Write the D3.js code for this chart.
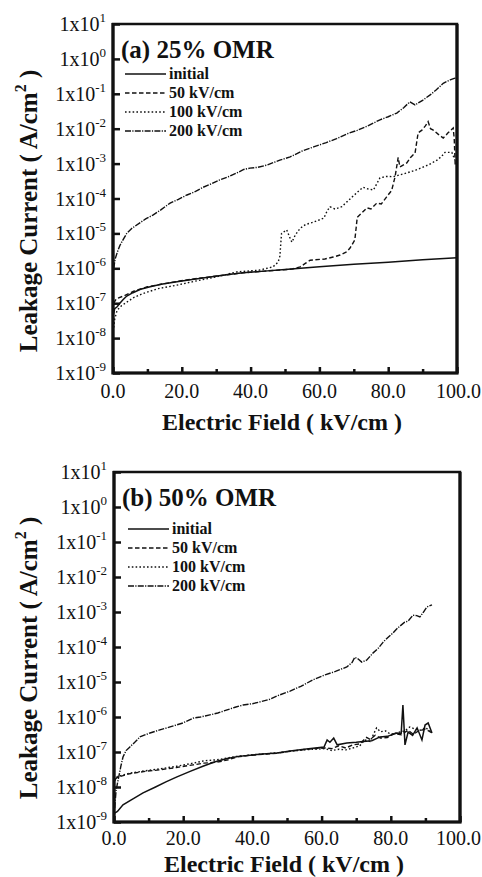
<!DOCTYPE html>
<html>
<head>
<meta charset="utf-8">
<script src="https://cdn.jsdelivr.net/npm/d3@7"></script>
<style>
  body { margin: 0; background: #fff; }
  text { font-family: "Liberation Serif", "Times New Roman", serif; fill: #111; }
</style>
</head>
<body>
<div id="chart"></div>
<script>
// values: [field kV/cm, current A/cm^2]
const a_initial = [[0.2,5e-8],[0.5,7e-8],[1.2,7.9e-8],[2,1.0e-7],[2.9,1.26e-7],[4,1.6e-7],[5.8,2.0e-7],[8,2.5e-7],[10.8,2.95e-7],[14,3.5e-7],[18.6,4.1e-7],[23,4.8e-7],[28.2,5.6e-7],[33,6.5e-7],[37.8,7.4e-7],[44,8.3e-7],[50,9.2e-7],[60,1.1e-6],[70,1.3e-6],[80,1.5e-6],[90,1.75e-6],[100,2.0e-6]];
const a_50 = [[0.2,1.0e-7],[1,1.35e-7],[3,1.6e-7],[6,2.2e-7],[10,2.95e-7],[14,3.5e-7],[18.6,4.2e-7],[23,4.9e-7],[28.2,5.7e-7],[33,6.5e-7],[37.8,7.4e-7],[44,8.3e-7],[48.5,8.9e-7],[52,9.5e-7],[54.4,1.1e-6],[56,1.4e-6],[57.3,1.7e-6],[61.6,1.85e-6],[64,2.1e-6],[66,2.4e-6],[68,3.0e-6],[68.9,3.8e-6],[70.3,6.5e-6],[70.7,1.5e-5],[71,2.9e-5],[72.5,4.0e-5],[73.8,5.4e-5],[75,5.0e-5],[76.7,7.4e-5],[78,7.0e-5],[79.5,1.1e-4],[81,1.7e-4],[82,4.2e-4],[82.9,1.5e-3],[83.4,8e-4],[85.4,1.05e-3],[86.5,1.5e-3],[87.8,2.0e-3],[88.7,7.6e-3],[89.8,9.1e-3],[90.8,1.2e-2],[91.6,1.6e-2],[92.3,1.0e-2],[93.1,9.1e-3],[94.5,7e-3],[96,5.4e-3],[97.4,7.6e-3],[98.9,1.05e-2],[99.2,5e-3],[99.5,8e-4]];
const a_100 = [[0.2,2e-8],[0.5,3.5e-8],[1.2,6.3e-8],[2.5,8.5e-8],[4,1.07e-7],[6,1.45e-7],[8.8,1.9e-7],[13,2.6e-7],[18.6,3.3e-7],[23,4.1e-7],[28.2,5.2e-7],[32,6.3e-7],[36,7.9e-7],[39,8.3e-7],[42.7,8.9e-7],[46.5,1.1e-6],[48,1.5e-6],[48.5,2.2e-6],[49,1.0e-5],[50.5,1.26e-5],[51.3,8e-6],[52,5.6e-6],[53,9e-6],[54.4,1.4e-5],[56,1.8e-5],[58.3,2.1e-5],[61.3,2.75e-5],[62.3,4.5e-5],[63.1,5.8e-5],[64.5,5.0e-5],[66.5,5.8e-5],[68,8e-5],[69.5,1.1e-4],[71,1.5e-4],[72.7,2.1e-4],[74,1.9e-4],[75.7,1.75e-4],[77.6,3.9e-4],[79.5,4.3e-4],[81.4,4.2e-4],[83.5,4.8e-4],[85.4,5.4e-4],[88,6.5e-4],[90.1,7.9e-4],[92,9.5e-4],[94.2,1.26e-3],[95.5,1.6e-3],[96.5,2.1e-3],[98.5,2.1e-3],[99.4,1.26e-3]];
const a_200 = [[0.2,1.0e-6],[0.6,1.8e-6],[1.2,2.8e-6],[2,4.5e-6],[2.9,6.5e-6],[4,1.0e-5],[5.5,1.4e-5],[7.8,2.0e-5],[9.5,2.6e-5],[11.7,3.4e-5],[14,4.8e-5],[16.6,7.4e-5],[19,9.5e-5],[21.5,1.26e-4],[24,1.6e-4],[26.2,2.1e-4],[28.5,2.6e-4],[31,3.4e-4],[33.5,4.2e-4],[36,5.4e-4],[38,6.8e-4],[39.8,7.4e-4],[42,7.8e-4],[44.8,9.1e-4],[48.5,1.26e-3],[51.5,1.55e-3],[55,2.3e-3],[58.3,3.0e-3],[62,4.0e-3],[65,5.2e-3],[68,7.1e-3],[71,9.0e-3],[74,1.2e-2],[77.6,1.8e-2],[80,2.2e-2],[82.5,2.8e-2],[84.5,4.0e-2],[86.3,5.9e-2],[87.8,4.8e-2],[90,6.5e-2],[92.2,9.3e-2],[94,1.3e-1],[96,2.0e-1],[98,2.5e-1],[99.4,2.8e-1],[100,3.0e-1]];

const b_initial = [[0.2,1.8e-9],[1,2.0e-9],[2.6,3.1e-9],[5,4.3e-9],[8.4,6.8e-9],[12,1.0e-8],[15,1.4e-8],[18.2,1.95e-8],[22,2.8e-8],[25.7,3.9e-8],[29,5.2e-8],[32.7,6.5e-8],[36,7.5e-8],[39.3,8.1e-8],[43,8.7e-8],[47.1,9.3e-8],[50.9,1.07e-7],[55,1.2e-7],[57.5,1.29e-7],[60.7,1.38e-7],[61.6,2.2e-7],[62.4,1.9e-7],[63.5,2.5e-7],[64.5,1.6e-7],[67.3,1.8e-7],[70,1.9e-7],[72,2.0e-7],[74.5,2.1e-7],[76.9,2.7e-7],[79,2.8e-7],[81.8,3.5e-7],[83,3.4e-7],[83.5,2.2e-6],[84.1,1.6e-7],[85,3.7e-7],[86.3,3.0e-7],[87.6,4.9e-7],[89,2.2e-7],[89.9,5.9e-7],[90.8,6.8e-7],[91.9,3.5e-7]];
const b_50 = [[0.2,1.6e-8],[1,1.9e-8],[4.6,2.4e-8],[9,2.8e-8],[13.3,3.1e-8],[18,3.6e-8],[22.9,4.3e-8],[26,4.8e-8],[29.8,5.1e-8],[33,6.0e-8],[35.5,7.2e-8],[39,8.0e-8],[43,8.6e-8],[47,9.2e-8],[51,1.05e-7],[55,1.18e-7],[58,1.25e-7],[61,1.3e-7],[63,1.25e-7],[65,1.5e-7],[67,1.3e-7],[69,1.6e-7],[71,1.7e-7],[73,2.6e-7],[74,2.3e-7],[75.5,3.0e-7],[77,2.5e-7],[79,2.6e-7],[81,3.4e-7],[83,3.1e-7],[85,4.2e-7],[86.5,3.2e-7],[88,4.0e-7],[90,4.5e-7],[91.9,3.5e-7]];
const b_100 = [[0.2,1.5e-8],[1,2.0e-8],[4.6,2.5e-8],[9,2.9e-8],[13.3,3.3e-8],[18,3.9e-8],[22.9,4.8e-8],[26,5.6e-8],[29.8,6.0e-8],[33,6.8e-8],[35.5,7.5e-8],[39,8.1e-8],[43,8.8e-8],[47,9.4e-8],[51,1.06e-7],[55,1.15e-7],[58,1.2e-7],[61,1.25e-7],[63,1.1e-7],[65,1.2e-7],[67,1.15e-7],[69,1.3e-7],[71,1.5e-7],[72.5,2.2e-7],[74,2.0e-7],[75.9,4.9e-7],[77,3.8e-7],[78.5,4.0e-7],[80,3.2e-7],[82,3.6e-7],[84,4.0e-7],[85.5,5.2e-7],[87,4.5e-7],[88.5,4.2e-7],[90,5.0e-7],[91.9,3.6e-7]];
const b_200 = [[0.2,2.5e-9],[0.6,8e-9],[1.2,1.6e-8],[2,4e-8],[2.6,7.2e-8],[3.5,1.1e-7],[4.6,1.4e-7],[6,1.9e-7],[7.5,2.7e-7],[10.4,3.5e-7],[13,4.2e-7],[16.2,5.2e-7],[20,6.8e-7],[22.9,9.3e-7],[25,1.0e-6],[27.7,1.15e-6],[30,1.3e-6],[32.7,1.6e-6],[35,1.9e-6],[37.3,2.2e-6],[40,2.4e-6],[42.2,2.7e-6],[45,3.2e-6],[47.1,4.0e-6],[50.9,5.5e-6],[54,7.5e-6],[57.5,1.15e-5],[61,1.6e-5],[64,2.0e-5],[67.3,2.7e-5],[68.8,3.6e-5],[69.6,5.1e-5],[70.5,4.6e-5],[71.6,3.7e-5],[73,4.2e-5],[74.9,6.8e-5],[76.5,9.5e-5],[77.8,1.38e-4],[79,1.8e-4],[80.6,2.5e-4],[82,3.5e-4],[84,5.1e-4],[85,5.5e-4],[86.4,8.1e-4],[87.5,7.9e-4],[88.4,7.2e-4],[89.3,9.5e-4],[90.4,1.38e-3],[91.9,1.6e-3]];

const seriesNames = ['initial', '50 kV/cm', '100 kV/cm', '200 kV/cm'];
const decadeExps = [1, 0, -1, -2, -3, -4, -5, -6, -7, -8, -9];
const fieldTicks = [0, 20, 40, 60, 80, 100];
const fieldMinor = [10, 30, 50, 70, 90];

// line styles per series: solid, dash, dot, dash-dot
const dashStyles = [null, '4.5,2.5', '1.6,2.2', '6,1.3,1.2,1.3'];

const svg = d3.select('#chart').append('svg')
  .attr('width', 482)
  .attr('height', 877);

function drawPanel(p) {
  const x = d3.scaleLinear().domain([0, 100]).range([p.left, p.right]);
  const y = d3.scaleLog().domain([1e-9, 1e1]).range([p.bottom, p.top]);
  const g = svg.append('g');

  // data lines
  const line = d3.line().x(d => x(d[0])).y(d => y(d[1]));
  p.series.forEach((s, i) => {
    g.append('path')
      .attr('d', line(s))
      .attr('fill', 'none')
      .attr('stroke', '#111')
      .attr('stroke-width', i === 0 ? 1.5 : 1.4)
      .attr('stroke-dasharray', dashStyles[i]);
  });

  // frame
  g.append('rect')
    .attr('x', p.left).attr('y', p.top)
    .attr('width', p.right - p.left).attr('height', p.bottom - p.top)
    .attr('fill', 'none').attr('stroke', '#111').attr('stroke-width', 2.5);
  g.append('path')
    .attr('d', `M${p.left},${p.top - 1}V${p.bottom}H${p.right}V${p.top}`)
    .attr('fill', 'none').attr('stroke', '#111').attr('stroke-width', 3.2);

  // y ticks, inward
  const yAxis = d3.axisRight(y)
    .tickValues(decadeExps.map(e => Math.pow(10, e)))
    .tickSize(7)
    .tickFormat('');
  g.append('g')
    .attr('transform', `translate(${p.left},0)`)
    .call(yAxis)
    .call(a => a.select('.domain').remove())
    .call(a => a.selectAll('line').attr('stroke', '#111').attr('stroke-width', 2.5));

  // y tick labels 1x10^n
  decadeExps.forEach(e => {
    const t = g.append('text')
      .attr('x', p.left - 7)
      .attr('y', y(Math.pow(10, e)) + 7)
      .attr('text-anchor', 'end')
      .style('font-size', '20px');
    t.append('tspan').text('1x10');
    t.append('tspan').attr('dy', -9).style('font-size', '13px').text(String(e));
  });

  // x ticks, inward
  const xAxis = d3.axisTop(x).tickValues(fieldTicks).tickSize(6).tickFormat('');
  g.append('g')
    .attr('transform', `translate(0,${p.bottom})`)
    .call(xAxis)
    .call(a => a.select('.domain').remove())
    .call(a => a.selectAll('line').attr('stroke', '#111').attr('stroke-width', 2.5));
  const xMinor = d3.axisTop(x).tickValues(fieldMinor).tickSize(4).tickFormat('');
  g.append('g')
    .attr('transform', `translate(0,${p.bottom})`)
    .call(xMinor)
    .call(a => a.select('.domain').remove())
    .call(a => a.selectAll('line').attr('stroke', '#111').attr('stroke-width', 2.5));

  // last label kept inside the page edge
  g.selectAll('.xlab')
    .data(fieldTicks)
    .enter().append('text')
    .attr('class', 'xlab')
    .attr('x', d => d === 100 ? 481 : x(d))
    .attr('y', p.xLabY)
    .attr('text-anchor', d => d === 100 ? 'end' : 'middle')
    .style('font-size', '20px')
    .text(d => d.toFixed(1));

  // axis titles
  g.append('text')
    .attr('x', (p.left + p.right) / 2 - 3)
    .attr('y', p.xTitleY)
    .attr('text-anchor', 'middle')
    .style('font-size', '24px')
    .style('font-weight', 'bold')
    .text('Electric Field ( kV/cm )');

  const yt = g.append('text')
    .attr('transform', `translate(37,${p.yTitleMid}) rotate(-90)`)
    .attr('text-anchor', 'middle')
    .style('font-size', '25px')
    .style('font-weight', 'bold');
  yt.append('tspan').text('Leakage Current ( A/cm');
  yt.append('tspan').attr('dy', -11).style('font-size', '16px').text('2');
  yt.append('tspan').attr('dy', 11).text(' )');

  // panel title
  g.append('text')
    .attr('x', p.left + 8)
    .attr('y', p.titleY)
    .style('font-size', '25px')
    .style('font-weight', 'bold')
    .text(p.title);

  // legend
  seriesNames.forEach((name, i) => {
    const ly = p.legendY + i * 19;
    g.append('line')
      .attr('x1', p.legendX).attr('x2', p.legendX + 41)
      .attr('y1', ly).attr('y2', ly)
      .attr('stroke', '#111').attr('stroke-width', 1.5)
      .attr('stroke-dasharray', dashStyles[i]);
    g.append('text')
      .attr('x', p.legendX + 44)
      .attr('y', ly + 5)
      .style('font-size', '16px')
      .style('font-weight', 'bold')
      .text(name);
  });
}

drawPanel({
  left: 113, right: 457, top: 24, bottom: 373,
  series: [a_initial, a_50, a_100, a_200],
  title: '(a) 25% OMR', titleY: 58,
  legendX: 125, legendY: 74,
  xLabY: 398, xTitleY: 430, yTitleMid: 211
});

drawPanel({
  left: 114, right: 460, top: 472, bottom: 822,
  series: [b_initial, b_50, b_100, b_200],
  title: '(b) 50% OMR', titleY: 506,
  legendX: 128, legendY: 529,
  xLabY: 844.5, xTitleY: 871.5, yTitleMid: 658
});
</script>
</body>
</html>
